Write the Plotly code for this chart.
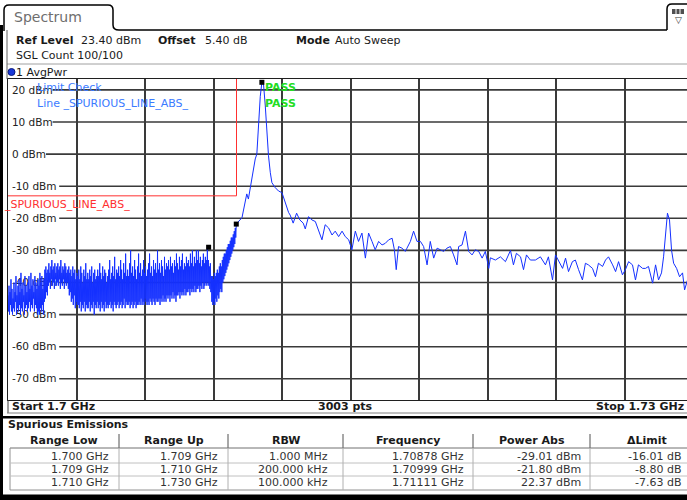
import numpy as np
import plotly.graph_objects as go

# ---------------- data ----------------
start_ghz = 1.700
stop_ghz = 1.730
sweep_points = 3003

# dense part of trace (1.700 GHz .. 1.70999 GHz), dBm
seg1_stop_ghz = 1.70999
seg1_dbm = [
    -44,-49,-41,-50,-43,-47,-39,-49,-42,-50,-45,-48,-40,-49,-43,-46,-38,-50,-44,-48,
    -41,-49,-39,-47,-43,-50,-37,-48,-42,-49,-40,-46,-44,-50,-38,-48,-41,-47,-43,-49,
    -40,-48,-38,-46,-42,-49,-37,-47,-41,-48,-39,-45,-43,-49,-38,-47,-40,-48,-42,-50,
    -39,-49,-41,-50,-37,-48,-40,-49,-38,-47,-42,-50,-39,-46,-36,-45,-35,-43,-37,-44,
    -36,-41,-34,-40,-37,-42,-35,-39,-33,-41,-36,-40,-35,-42,-34,-39,-37,-41,-35,-40,
    -34,-41,-36,-39,-35,-42,-33,-40,-37,-41,-35,-39,-36,-42,-34,-40,-35,-41,-37,-40,
    -36,-42,-35,-44,-37,-43,-36,-46,-38,-45,-35,-47,-37,-44,-36,-48,-39,-46,-37,-47,
    -38,-47,-36,-48,-39,-46,-35,-49,-37,-47,-40,-48,-36,-46,-38,-49,-34,-47,-39,-48,
    -37,-48,-39,-46,-36,-49,-38,-47,-35,-48,-40,-46,-37,-50,-36,-47,-39,-48,-38,-46,
    -36,-48,-38,-47,-34,-49,-37,-46,-39,-48,-35,-47,-38,-49,-36,-46,-37,-48,-40,-47,
    -38,-48,-36,-47,-33,-46,-39,-48,-37,-47,-35,-49,-38,-46,-32,-47,-39,-48,-36,-47,
    -37,-46,-35,-48,-38,-47,-33,-46,-36,-48,-39,-47,-34,-45,-37,-48,-31,-46,-38,-47,
    -36,-47,-38,-46,-34,-48,-30,-47,-37,-46,-35,-48,-38,-47,-33,-46,-36,-48,-39,-47,
    -35,-47,-31,-46,-37,-47,-34,-45,-38,-47,-36,-46,-33,-47,-37,-45,-35,-46,-38,-47,
    -36,-46,-34,-47,-31,-45,-37,-46,-35,-47,-38,-45,-33,-46,-36,-47,-34,-45,-37,-46,
    -30,-46,-36,-45,-34,-47,-37,-45,-33,-46,-35,-44,-38,-46,-32,-45,-36,-46,-34,-44,
    -35,-45,-33,-44,-36,-46,-32,-44,-35,-45,-34,-43,-37,-45,-33,-44,-35,-46,-31,-44,
    -34,-44,-36,-43,-32,-45,-35,-43,-33,-44,-31,-43,-36,-44,-34,-42,-35,-44,-32,-43,
    -34,-43,-33,-42,-35,-44,-31,-42,-34,-43,-30,-42,-35,-43,-32,-41,-34,-43,-30,-42,
    -33,-42,-30,-41,-34,-43,-32,-41,-35,-42,-33,-40,-31,-42,-34,-41,-32,-40,-33,-41,
    -29.01,-40,-33,-41,-35,-42,-34,-43,-38,-46,
    -38,-47,-39,-46,-37,-47,-38,-45,-37,-46,-36,-44,-37,-45,-35,-43,-34,-42,-35,-43,
    -33,-40,-32,-39,-31,-38,-31,-37,-30,-36,-29,-35,-28,-34,-28,-33,-27,-32,-26,-31,
    -26,-30,-25,-29,-24,-28,-23,-26,-21.8,
]

# rest of the trace: frequency offset from 1700 MHz (MHz) and level (dBm)
tail_freq_mhz = [
    10.24,10.38,10.45,10.52,10.67,10.82,10.89,10.96,11.04,11.11,
    11.18,11.26,11.33,11.40,11.48,11.55,11.69,11.84,11.99,12.13,
    12.28,12.35,12.48,12.63,12.77,12.92,13.01,13.15,13.30,13.45,
    13.59,13.74,13.88,14.03,14.18,14.32,14.47,14.62,14.76,14.91,
    15.05,15.20,15.34,15.49,15.64,15.78,15.93,16.07,16.22,16.37,
    16.51,16.66,16.81,16.91,16.99,17.09,17.24,17.39,17.46,17.61,
    17.75,17.90,18.05,18.19,18.34,18.48,18.63,18.78,18.92,19.07,
    19.21,19.36,19.50,19.65,19.72,19.87,20.02,20.16,20.31,20.45,
    20.60,20.75,20.89,21.04,21.11,21.33,21.55,21.77,21.99,22.12,
    22.25,22.43,22.56,22.69,22.86,23.08,23.30,23.52,23.65,23.83,
    23.96,24.09,24.27,24.40,24.53,24.70,24.83,24.97,25.14,25.27,
    25.40,25.58,25.71,25.84,26.02,26.15,26.28,26.46,26.59,26.72,
    26.89,27.02,27.16,27.33,27.46,27.59,27.77,27.90,28.03,28.21,
    28.34,28.47,28.60,28.69,28.78,28.86,28.95,29.04,29.13,29.26,
    29.39,29.52,29.61,29.74,29.87,30.00,
]
tail_dbm = [
    -19.8,-15.0,-12.4,-14.0,-7.7,-1.5,0.0,8.8,18.0,22.37,
    22.0,15.0,5.7,-0.5,-5.8,-8.9,-10.4,-11.5,-12.0,-15.1,
    -18.2,-19.0,-21.5,-18.4,-20.5,-21.5,-23.3,-19.5,-20.5,-21.0,
    -24.0,-26.7,-22.0,-23.0,-25.2,-24.0,-25.7,-24.0,-25.7,-26.7,
    -29.8,-24.0,-27.2,-24.6,-32.4,-24.6,-27.2,-29.8,-27.2,-28.3,
    -27.8,-26.7,-26.2,-29.8,-36.0,-28.8,-29.3,-30.3,-29.3,-27.2,
    -24.0,-27.2,-27.2,-28.8,-34.5,-27.2,-32.4,-29.3,-29.8,-30.3,
    -29.3,-28.8,-31.4,-34.5,-28.8,-28.3,-24.0,-30.3,-31.4,-29.8,
    -30.3,-32.4,-30.3,-35.6,-32.3,-33.0,-32.0,-33.5,-30.0,-34.5,
    -30.9,-32.0,-36.0,-31.4,-33.0,-33.0,-32.0,-34.5,-32.0,-39.2,
    -31.4,-33.0,-35.6,-32.4,-36.6,-33.5,-33.0,-36.0,-39.2,-34.0,
    -34.5,-35.6,-38.2,-34.0,-35.0,-33.0,-32.0,-34.5,-36.6,-33.5,
    -37.6,-36.0,-33.5,-34.5,-39.2,-34.5,-35.6,-35.6,-35.0,-40.2,
    -34.5,-39.2,-37.0,-32.0,-23.6,-18.4,-20.5,-30.0,-34.0,-35.6,
    -38.2,-37.0,-42.3,-39.2,-38.0,-39.0,
]

ytick_vals = [20, 10, 0, -10, -20, -30, -40, -50, -60, -70]
ytick_text = [f"{v} dBm" for v in ytick_vals]
ref_level = 23.40
bottom_level = -76.60

limit_freq = [1.700, 1.710, 1.710, 1.730]
limit_dbm = [-13, -13, 30, 30]

range_low = ["1.700 GHz", "1.709 GHz", "1.710 GHz"]
range_up = ["1.709 GHz", "1.710 GHz", "1.730 GHz"]
rbw = ["1.000 MHz", "200.000 kHz", "100.000 kHz"]
peak_freq_ghz = [1.70878, 1.70999, 1.71111]
peak_power_dbm = [-29.01, -21.80, 22.37]
delta_limit_db = [-16.01, -8.80, -7.63]
table_headers = ["Range Low", "Range Up", "RBW", "Frequency", "Power Abs", "ΔLimit"]

# ---------------- figure ----------------
W, H = 687, 500
ML, MR, MT, MB = 8, 0, 79, 100
PW, PH = W - ML - MR, H - MT - MB


def PX(x):
    return (x - ML) / PW


def PY(y):
    return (H - MB - y) / PH


FONT = "DejaVu Sans"

freq1 = np.linspace(start_ghz, seg1_stop_ghz, len(seg1_dbm))
freq2 = start_ghz + np.array(tail_freq_mhz) / 1000.0
freq_all = np.concatenate([freq1, freq2])
dbm_all = np.concatenate([np.array(seg1_dbm, float), np.array(tail_dbm, float)])

fig = go.Figure()
fig.add_trace(go.Scatter(x=limit_freq, y=limit_dbm, mode="lines",
                         line=dict(color="#ff3030", width=1), hoverinfo="skip"))
fig.add_trace(go.Scatter(x=freq_all, y=dbm_all, mode="lines",
                         line=dict(color="#1430ff", width=1), hoverinfo="skip"))
fig.add_trace(go.Scatter(x=peak_freq_ghz, y=peak_power_dbm, mode="markers",
                         marker=dict(symbol="square", size=5, color="black"),
                         hoverinfo="skip"))

x_end = start_ghz + (stop_ghz - start_ghz) * (W - 8.5) / 685.0

shapes = []
annotations = []


def line(x0, y0, x1, y1, color="black", width=1, layer="above"):
    shapes.append(dict(type="line", xref="paper", yref="paper",
                       x0=PX(x0), y0=PY(y0), x1=PX(x1), y1=PY(y1),
                       line=dict(color=color, width=width), layer=layer))


def rect(x0, y0, x1, y1, fill, color=None, width=0):
    shapes.append(dict(type="rect", xref="paper", yref="paper",
                       x0=PX(x0), y0=PY(y0), x1=PX(x1), y1=PY(y1),
                       fillcolor=fill, line=dict(color=color or fill, width=width),
                       layer="above"))


def path(points, color="black", width=1.5):
    s = ""
    for cmd, pts in points:
        s += cmd + " ".join(f"{PX(px):.5f},{PY(py):.5f}" for px, py in pts) + " "
    shapes.append(dict(type="path", xref="paper", yref="paper", path=s.strip(),
                       line=dict(color=color, width=width), layer="above"))


def txt(x, y, s, size=11, color="#1a1a1a", bold=False, anchor="left"):
    annotations.append(dict(x=PX(x), y=PY(y), xref="paper", yref="paper",
                            text=f"<b>{s}</b>" if bold else s, showarrow=False,
                            xanchor=anchor, yanchor="middle", borderpad=0,
                            font=dict(size=size, color=color, family=FONT)))


# horizontal grid lines (start after the inside tick labels)
for v, t in zip(ytick_vals, ytick_text):
    shapes.append(dict(type="line", xref="paper", yref="y",
                       x0=PX(13 + len(t) * 6.6), x1=1, y0=v, y1=v,
                       line=dict(color="#3a3a3a", width=1.6), layer="below"))

# window frame / tab
rect(0, 25, 3, 500, "black")
path([("M", [(4, 31)]), ("L", [(4, 10)]), ("Q", [(4, 5), (9, 5)]), ("L", [(108, 5)]),
      ("Q", [(113, 5), (113, 10)]), ("L", [(113, 25)]), ("Q", [(113, 30), (119, 30)]),
      ("L", [(667, 30)])])
path([("M", [(667, 30)]), ("L", [(667, 9)]), ("Q", [(667, 4), (672, 4)]), ("L", [(688, 4)])])
rect(672, 9, 684, 14, "#505050")
line(676, 9, 676, 14, "white", 1)
line(680, 9, 680, 14, "white", 1)
txt(678, 20, "▽", size=9, color="#333", anchor="center")
txt(13, 17, "Spectrum", size=14, color="#6e6e6e")

# info header
txt(15, 40, "Ref Level", bold=True)
txt(80, 40, "23.40 dBm")
txt(157, 40, "Offset", bold=True)
txt(204, 40, "5.40 dB")
txt(295, 40, "Mode", bold=True)
txt(334, 40, "Auto Sweep")
txt(15, 55, "SGL Count 100/100")
line(7, 64, 687, 64, "#a0a0a0", 1)
line(7, 30, 7, 79, "#606060", 1)
shapes.append(dict(type="circle", xref="paper", yref="paper",
                   x0=PX(8), x1=PX(15), y0=PY(68.5), y1=PY(75.5),
                   fillcolor="#1838d8", line=dict(color="#0a1a80", width=1), layer="above"))
txt(15, 72, "1 AvgPwr")

# in-plot labels
txt(36, 87, "Limit Check", color="#3b7bff")
txt(36, 103, "Line _SPURIOUS_LINE_ABS_", color="#3b7bff")
txt(264, 87, "PASS", color="#22dd22", bold=True)
txt(264, 103, "PASS", color="#22dd22", bold=True)
annotations.append(dict(x=limit_freq[0], y=limit_dbm[0], xref="x", yref="y",
                        text="_SPURIOUS_LINE_ABS_", showarrow=False, xanchor="left",
                        yanchor="top", borderpad=0, yshift=-1, xshift=-5,
                        font=dict(size=11, color="#ff3030", family=FONT)))

# start / stop bar
line(8, 400, 8, 413, "#404040", 1)
line(7, 413, 687, 413, "#808080", 1)
txt(11, 407, "Start 1.7 GHz", bold=True)
txt(345, 407, f"{sweep_points} pts", bold=True, anchor="center")
txt(685, 407, "Stop 1.73 GHz", bold=True, anchor="right")
rect(0, 416, 687, 418.5, "black")

# spurious emissions table
txt(7, 425, "Spurious Emissions", bold=True)
col_edges = [8, 119, 228, 343, 473, 590, 704]
right_edges = [110, 219, 329, 465, 582, 683]
for i, h in enumerate(table_headers):
    txt((col_edges[i] + col_edges[i + 1]) / 2, 441, h, bold=True, anchor="center")
for xe in col_edges[1:-1]:
    line(xe, 434, xe, 448, "#505050", 1)
line(10, 448, 687, 448, "#707070", 1)
line(10, 448, 10, 490, "#909090", 1)
line(10, 490, 687, 490, "#909090", 1)
for yl in [463, 476]:
    line(10, yl, 687, yl, "#c0c0c0", 1)
for xe in col_edges[1:-1]:
    line(xe, 448, xe, 490, "#b0b0b0", 1)
rows = [range_low, range_up, rbw,
        [f"{f:.5f} GHz" for f in peak_freq_ghz],
        [f"{p:.2f} dBm" for p in peak_power_dbm],
        [f"{d:.2f} dB" for d in delta_limit_db]]
row_y = [456.5, 469.5, 482.5]
for c, col in enumerate(rows):
    for r, val in enumerate(col):
        txt(right_edges[c], row_y[r], val, color="#333333", anchor="right")
rect(0, 494.5, 687, 500, "black")

fig.update_layout(
    width=W, height=H,
    margin=dict(l=ML, r=MR, t=MT, b=MB, pad=0),
    paper_bgcolor="white", plot_bgcolor="white",
    showlegend=False,
    shapes=shapes, annotations=annotations,
    xaxis=dict(range=[start_ghz, x_end], showticklabels=False, ticks="",
               showgrid=True, gridcolor="#3a3a3a", gridwidth=1.6,
               tick0=start_ghz, dtick=(stop_ghz - start_ghz) / 10,
               zeroline=False, showline=True, mirror=True,
               linecolor="#202020", linewidth=1, layer="below traces"),
    yaxis=dict(range=[bottom_level, ref_level], tickvals=ytick_vals, ticktext=ytick_text,
               ticklabelposition="inside", ticks="", showgrid=False, zeroline=False,
               showline=True, linecolor="#202020", linewidth=1,
               ticklabelstandoff=3,
               tickfont=dict(size=10.5, color="#222", family=FONT),
               layer="below traces"),
)

fig.write_html(
    "out.html",
    config={"displayModeBar": False},
    post_script="document.body.style.margin='0';document.body.style.overflow='hidden';",
)
